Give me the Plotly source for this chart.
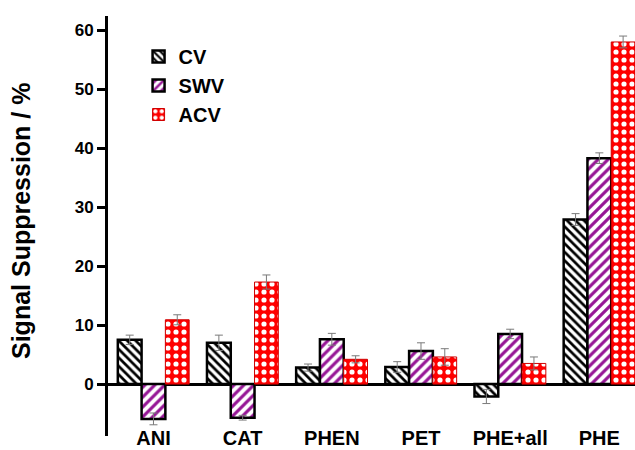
import plotly.graph_objects as go

# Analytes (x categories) and the three voltammetric techniques
categories = ["ANI", "CAT", "PHEN", "PET", "PHE+all", "PHE"]

cv_values = [7.5, 7.0, 2.8, 2.9, -2.1, 27.9]
swv_values = [-5.9, -5.7, 7.6, 5.6, 8.5, 38.3]
acv_values = [10.9, 17.3, 4.2, 4.6, 3.5, 58.0]

cv_errors = [0.8, 1.3, 0.6, 0.9, 1.2, 1.0]
swv_errors = [1.0, 0.4, 1.0, 1.4, 0.8, 0.9]
acv_errors = [0.85, 1.2, 0.6, 1.4, 1.1, 1.0]

y_ticks = [0, 10, 20, 30, 40, 50, 60]

FONT = "Liberation Sans, Arial, sans-serif"
ERR_COLOR = "#7a7a7a"


def err(values):
    return dict(type="data", array=values, visible=True,
                color=ERR_COLOR, thickness=1, width=4)


fig = go.Figure()

fig.add_trace(go.Bar(
    name="CV", x=categories, y=cv_values, error_y=err(cv_errors),
    marker=dict(
        color="white",
        line=dict(color="black", width=2.5),
        pattern=dict(shape="\\", fgcolor="black", bgcolor="white",
                     size=6, solidity=0.45, fillmode="replace"),
    ),
))

fig.add_trace(go.Bar(
    name="SWV", x=categories, y=swv_values, error_y=err(swv_errors),
    marker=dict(
        color="white",
        line=dict(color="black", width=2.5),
        pattern=dict(shape="/", fgcolor="#961696", bgcolor="white",
                     size=7, solidity=0.45, fillmode="replace"),
    ),
))

fig.add_trace(go.Bar(
    name="ACV", x=categories, y=acv_values, error_y=err(acv_errors),
    marker=dict(
        color="#ff0000",
        line=dict(color="#d00000", width=1),
        pattern=dict(shape=".", fgcolor="white", bgcolor="#ff0000",
                     size=8, solidity=0.33, fillmode="replace"),
    ),
))

fig.update_layout(
    width=635,
    height=450,
    margin=dict(l=108, r=0, t=16, b=14, autoexpand=False),
    paper_bgcolor="white",
    plot_bgcolor="white",
    barmode="group",
    bargap=0.2,
    bargroupgap=0,
    font=dict(family=FONT, color="black", weight="bold"),
    showlegend=True,
    legend=dict(
        x=0.058, y=0.95, xanchor="left", yanchor="top",
        bgcolor="rgba(0,0,0,0)",
        font=dict(family=FONT, size=20, color="black", weight="bold"),
        tracegroupgap=4,
    ),
    xaxis=dict(
        range=[-0.51, 5.40],
        automargin=False,
        showline=False,
        showgrid=False,
        zeroline=False,
        ticks="",
        ticklabelstandoff=-12,
        tickfont=dict(family=FONT, size=20, color="black", weight="bold"),
    ),
    yaxis=dict(
        range=[-8.8, 62.4],
        automargin=False,
        tickvals=y_ticks,
        showline=True,
        linecolor="black",
        linewidth=3,
        showgrid=False,
        zeroline=True,
        zerolinecolor="black",
        zerolinewidth=3,
        ticks="outside",
        ticklen=8,
        tickwidth=2.5,
        tickcolor="black",
        tickfont=dict(family=FONT, size=17, color="black", weight="bold"),
    ),
    annotations=[dict(
        text="Signal Suppression / %",
        textangle=-90,
        xref="paper", yref="paper",
        x=-0.165, y=0.512,
        xanchor="center", yanchor="middle",
        showarrow=False,
        font=dict(family=FONT, size=25, color="black", weight="bold"),
    )],
)

fig.write_html("out.html")
